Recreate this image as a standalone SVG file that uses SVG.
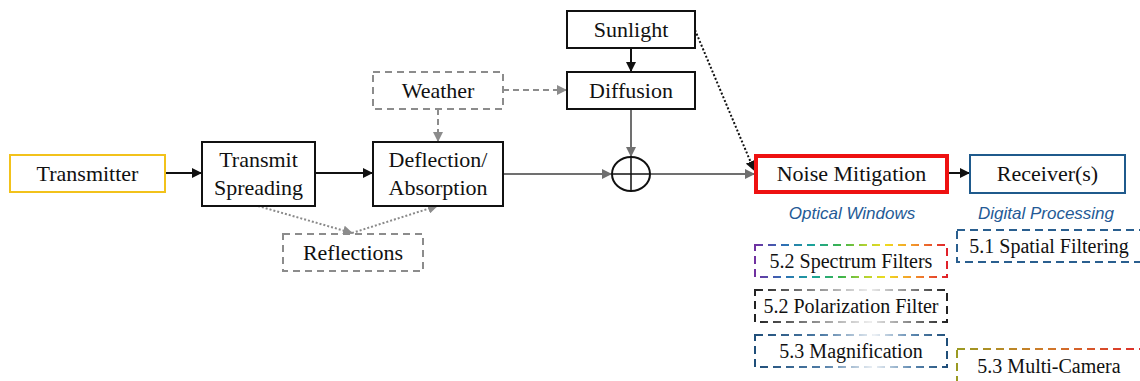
<svg xmlns="http://www.w3.org/2000/svg" width="1140" height="381" viewBox="0 0 1140 381">
  <style>
    .box { fill: #ffffff; stroke: #111111; stroke-width: 2; }
    .soft { fill: #ffffff; stroke: #8c8c8c; stroke-width: 2; stroke-dasharray: 7 5; }
    .opt { fill: #ffffff; stroke-width: 2; stroke-dasharray: 8 5; }
    .lbl { font-family: "Liberation Serif", "Times New Roman", serif; font-size: 22px; fill: #111111; text-anchor: middle; }
    .sm { font-family: "Liberation Serif", "Times New Roman", serif; font-size: 20px; fill: #111111; text-anchor: middle; }
    .cap { font-family: "Liberation Sans", Arial, sans-serif; font-size: 17px; font-style: italic; fill: #245a96; text-anchor: middle; }
    .solid { fill: none; stroke: #111111; stroke-width: 2; }
    .grey { fill: none; stroke: #707070; stroke-width: 2; }
    .dash { fill: none; stroke: #8c8c8c; stroke-width: 2; stroke-dasharray: 6 4; }
    .dotg { fill: none; stroke: #8a8a8a; stroke-width: 2; stroke-dasharray: 2 2; }
    .dotk { fill: none; stroke: #111111; stroke-width: 2; stroke-dasharray: 2 2; }
  </style>
  <defs>
    <marker id="ak" viewBox="0 0 10 10" refX="9" refY="5" markerWidth="5" markerHeight="5" orient="auto" markerUnits="strokeWidth">
      <path d="M0,0 L10,5 L0,10 z" fill="#111111"/>
    </marker>
    <marker id="ag" viewBox="0 0 10 10" refX="9" refY="5" markerWidth="5" markerHeight="5" orient="auto" markerUnits="strokeWidth">
      <path d="M0,0 L10,5 L0,10 z" fill="#707070"/>
    </marker>
    <marker id="al" viewBox="0 0 10 10" refX="9" refY="5" markerWidth="5" markerHeight="5" orient="auto" markerUnits="strokeWidth">
      <path d="M0,0 L10,5 L0,10 z" fill="#8c8c8c"/>
    </marker>
    <linearGradient id="rainbow" x1="0" y1="0" x2="1" y2="0">
      <stop offset="0" stop-color="#7030a0"/>
      <stop offset="0.15" stop-color="#2f6fb5"/>
      <stop offset="0.3" stop-color="#1aa39a"/>
      <stop offset="0.45" stop-color="#3cb44a"/>
      <stop offset="0.58" stop-color="#b7d331"/>
      <stop offset="0.68" stop-color="#f0dc1e"/>
      <stop offset="0.82" stop-color="#f39a2c"/>
      <stop offset="1" stop-color="#e0202a"/>
    </linearGradient>
    <linearGradient id="greyfade" x1="0" y1="0" x2="1" y2="0">
      <stop offset="0" stop-color="#222222"/>
      <stop offset="0.35" stop-color="#9a9a9a"/>
      <stop offset="0.6" stop-color="#eeeeee"/>
      <stop offset="0.8" stop-color="#8a8a8a"/>
      <stop offset="1" stop-color="#222222"/>
    </linearGradient>
    <linearGradient id="bluefade" x1="0" y1="0" x2="1" y2="0">
      <stop offset="0" stop-color="#1f4e79"/>
      <stop offset="0.35" stop-color="#4f7ca6"/>
      <stop offset="0.62" stop-color="#eef2f6"/>
      <stop offset="0.82" stop-color="#5d88b0"/>
      <stop offset="1" stop-color="#1f4e79"/>
    </linearGradient>
    <linearGradient id="warm" x1="0" y1="0" x2="1" y2="0">
      <stop offset="0" stop-color="#9a9a22"/>
      <stop offset="0.45" stop-color="#d07a2a"/>
      <stop offset="1" stop-color="#e0202a"/>
    </linearGradient>
  </defs>

  <!-- connectors -->
  <g id="connectors">
    <line class="solid" x1="165" y1="173" x2="201" y2="173" marker-end="url(#ak)"/>
    <line class="solid" x1="315" y1="173" x2="372" y2="173" marker-end="url(#ak)"/>
    <line class="grey" x1="503" y1="174" x2="611" y2="174" marker-end="url(#ag)"/>
    <line class="grey" x1="650" y1="174" x2="754" y2="174" marker-end="url(#ag)"/>
    <line class="solid" x1="948" y1="173" x2="969" y2="173" marker-end="url(#ak)"/>
    <line class="solid" x1="631" y1="48" x2="631" y2="71" marker-end="url(#ak)"/>
    <line class="grey" x1="631" y1="109" x2="631" y2="156" marker-end="url(#ag)"/>
    <line class="dash" x1="503" y1="90" x2="566" y2="90" marker-end="url(#al)"/>
    <line class="dash" x1="438" y1="109" x2="438" y2="141" marker-end="url(#al)"/>
    <line class="dotk" x1="695" y1="30" x2="754" y2="170" marker-end="url(#ak)"/>
    <line class="dotg" x1="258" y1="206" x2="352" y2="233" marker-end="url(#al)"/>
    <line class="dotg" x1="352" y1="233" x2="437" y2="206" marker-end="url(#al)"/>
  </g>

  <g id="transmitter">
    <rect x="10" y="155" width="155" height="37" fill="#ffffff" stroke="#f2c21b" stroke-width="2"/>
    <text class="lbl" x="87.5" y="181">Transmitter</text>
  </g>

  <g id="spreading">
    <rect class="box" x="202" y="142" width="113" height="64"/>
    <text class="lbl" x="258.5" y="167">Transmit</text>
    <text class="lbl" x="258.5" y="195">Spreading</text>
  </g>

  <g id="deflection">
    <rect class="box" x="373" y="142" width="130" height="64"/>
    <text class="lbl" x="438" y="167">Deflection/</text>
    <text class="lbl" x="438" y="195">Absorption</text>
  </g>

  <g id="weather">
    <rect class="soft" x="373" y="72" width="130" height="37"/>
    <text class="lbl" x="438" y="98">Weather</text>
  </g>

  <g id="reflections">
    <rect class="soft" x="283" y="234" width="140" height="37"/>
    <text class="lbl" x="353" y="260">Reflections</text>
  </g>

  <g id="sunlight">
    <rect class="box" x="567" y="11" width="128" height="37"/>
    <text class="lbl" x="631" y="37">Sunlight</text>
  </g>

  <g id="diffusion">
    <rect class="box" x="567" y="72" width="128" height="37"/>
    <text class="lbl" x="631" y="98">Diffusion</text>
  </g>

  <g id="sum">
    <ellipse cx="631" cy="174" rx="19" ry="17" fill="#ffffff" stroke="#111111" stroke-width="2"/>
    <line x1="612" y1="174" x2="650" y2="174" stroke="#111111" stroke-width="1.5"/>
    <line x1="631" y1="157" x2="631" y2="191" stroke="#111111" stroke-width="1.5"/>
  </g>

  <g id="noise-mitigation">
    <rect x="756" y="156" width="191" height="36" fill="#ffffff" stroke="#ee1111" stroke-width="4"/>
    <text class="lbl" x="851.5" y="181">Noise Mitigation</text>
    <text class="cap" x="852" y="219">Optical Windows</text>
  </g>

  <g id="receiver">
    <rect x="970" y="155" width="155" height="38" fill="#ffffff" stroke="#1f5a8c" stroke-width="2"/>
    <text class="lbl" x="1047.5" y="181">Receiver(s)</text>
    <text class="cap" x="1046" y="219">Digital Processing</text>
  </g>

  <g id="spectrum-filters">
    <rect class="opt" x="755" y="245" width="192" height="32" stroke="url(#rainbow)"/>
    <text class="sm" x="851" y="268">5.2 Spectrum Filters</text>
  </g>

  <g id="polarization-filter">
    <rect class="opt" x="755" y="290" width="192" height="32" stroke="url(#greyfade)"/>
    <text class="sm" x="851" y="313">5.2 Polarization Filter</text>
  </g>

  <g id="magnification">
    <rect class="opt" x="755" y="335" width="192" height="32" stroke="url(#bluefade)"/>
    <text class="sm" x="851" y="358">5.3 Magnification</text>
  </g>

  <g id="spatial-filtering">
    <rect class="opt" x="957" y="230" width="200" height="32" stroke="#2a5f8f"/>
    <text class="sm" x="1049" y="253">5.1 Spatial Filtering</text>
  </g>

  <g id="multi-camera">
    <rect class="opt" x="957" y="349" width="200" height="45" stroke="url(#warm)"/>
    <text class="sm" x="1049" y="373">5.3 Multi-Camera</text>
  </g>
</svg>
